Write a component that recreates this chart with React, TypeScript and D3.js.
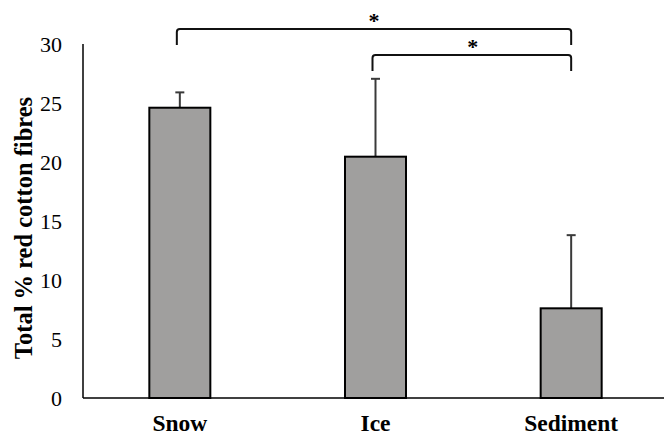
import React from "react";
import * as d3 from "d3";

const categories = ["Snow", "Ice", "Sediment"];
const means = [24.6, 20.45, 7.6];
const errors = [1.3, 6.6, 6.2];
const yTicks = [0, 5, 10, 15, 20, 25, 30];
const brackets = [
  { from: "Snow", to: "Sediment", label: "*" },
  { from: "Ice", to: "Sediment", label: "*" },
];

const W = 667;
const H = 435;
const left = 83;
const right = 670;
const top = 44;
const bottom = 398;
const font = "Liberation Serif, Times New Roman, serif";

export default function App() {
  const x = d3.scaleBand<string>().domain(categories).range([left, right]).paddingInner(0).paddingOuter(0);
  const y = d3.scaleLinear().domain([0, 30]).range([bottom, top]);
  const barW = 61;
  const cx = (c: string) => (x(c) ?? 0) + x.bandwidth() / 2 - 1;

  const bracketY = [29, 55];
  const drop = 16;
  const r = 3;

  return (
    <svg width={W} height={H} style={{ position: "absolute", left: 0, top: 0, background: "#fff" }}>
      {/* y axis */}
      <line x1={left} x2={left} y1={top} y2={bottom} stroke="#000" strokeWidth={1.5} />
      {yTicks.map((t) => (
        <text key={t} x={62} y={y(t) + 7.5} textAnchor="end" fontFamily={font} fontSize={22} fill="#000">
          {t}
        </text>
      ))}
      <text
        transform={`translate(32, 228) rotate(-90)`}
        textAnchor="middle"
        fontFamily={font}
        fontSize={24.5}
        fontWeight="bold"
        fill="#000"
      >
        Total % red cotton fibres
      </text>

      {/* bars with error bars */}
      {categories.map((c, i) => {
        const xc = cx(c);
        const yTop = y(means[i]);
        const yErr = y(means[i] + errors[i]);
        return (
          <g key={c}>
            <line x1={xc} x2={xc} y1={yTop} y2={yErr} stroke="#3a3a3a" strokeWidth={2} />
            <line x1={xc - 4.5} x2={xc + 4.5} y1={yErr} y2={yErr} stroke="#3a3a3a" strokeWidth={2} />
            <rect x={xc - barW / 2} y={yTop} width={barW} height={bottom - yTop} fill="#a09f9e" stroke="#000" strokeWidth={2} />
            <text x={xc} y={431} textAnchor="middle" fontFamily={font} fontSize={23.5} fontWeight="bold" fill="#000">
              {c}
            </text>
          </g>
        );
      })}

      {/* x axis */}
      <line x1={left} x2={664} y1={bottom} y2={bottom} stroke="#000" strokeWidth={1.5} />

      {/* significance brackets */}
      {brackets.map((b, i) => {
        const x1 = cx(b.from) - 3;
        const x2 = cx(b.to);
        const by = bracketY[i];
        const d = `M${x1},${by + drop} L${x1},${by + r} Q${x1},${by} ${x1 + r},${by} L${x2 - r},${by} Q${x2},${by} ${x2},${by + r} L${x2},${by + drop}`;
        const mid = i === 0 ? (x1 + x2) / 2 : (x1 + x2) / 2 + 1;
        return (
          <g key={i}>
            <path d={d} fill="none" stroke="#111" strokeWidth={2} />
            <text x={mid} y={by - 1} textAnchor="middle" fontFamily={font} fontSize={22} fontWeight="bold" fill="#000">
              {b.label}
            </text>
          </g>
        );
      })}
    </svg>
  );
}
